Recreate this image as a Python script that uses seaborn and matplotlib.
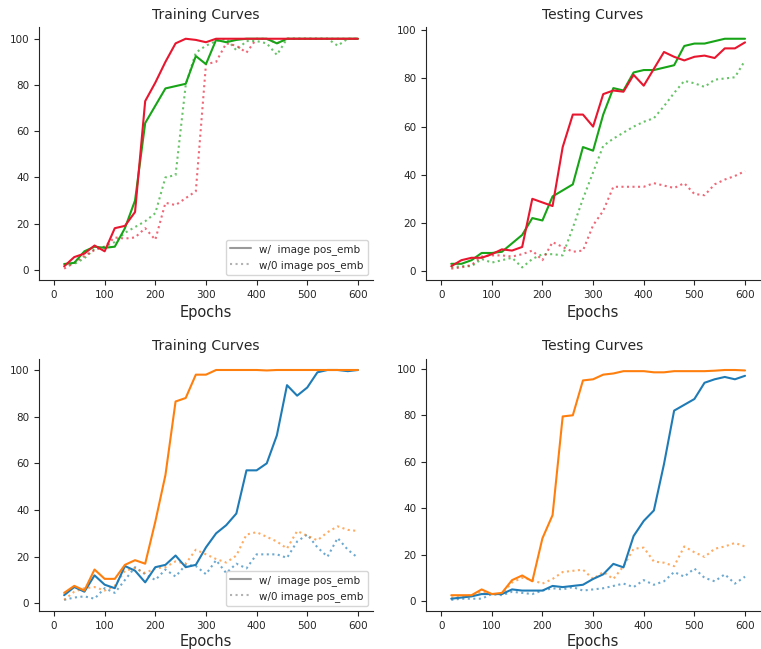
import numpy as np
import pandas as pd
import seaborn as sns
import matplotlib
matplotlib.use('Agg')
import matplotlib.pyplot as plt
from matplotlib.lines import Line2D

sns.set_style('ticks')

epochs = list(range(20, 601, 20))

# Top row: green / red runs
train_green_w = [2.5, 3, 8, 10, 9.5, 10, 18, 30, 63.5, 71, 78.5, 79.5, 80.5, 92.5, 89,
                 99.5, 98.5, 99.5, 100, 100, 100, 98, 100, 100, 100, 100, 100, 100, 100, 100]
train_red_w = [1.5, 5.5, 7, 10.5, 8, 18, 19, 25, 73, 81, 90, 98, 100, 99.5, 98.5,
               100, 100, 100, 100, 100, 100, 100, 100, 100, 100, 100, 100, 100, 100, 100]
train_green_wo = [2, 2.5, 5, 9, 10, 12, 16, 18.5, 21, 24.5, 40, 41, 80, 94, 97,
                  99, 100, 95, 99, 99, 98, 93, 100, 100, 100, 100, 100, 97, 100, 100]
train_red_wo = [0.5, 3, 6, 8.5, 10, 14, 13.5, 14, 18, 13, 29, 28, 31, 34, 89,
                90, 98, 97, 94, 100, 100, 98, 100, 100, 100, 100, 100, 100, 100, 100]

test_green_w = [3, 3, 4.5, 7.5, 7.5, 8, 11.5, 15, 22, 21, 31, 33.5, 36, 51.5, 50,
                65, 76, 75, 82.5, 83.5, 83.5, 84.5, 85.5, 93.5, 94.5, 94.5, 95.5, 96.5, 96.5, 96.5]
test_red_w = [2, 4.5, 5.5, 5.5, 7, 9, 8.5, 10, 30, 28.5, 27, 51.5, 65, 65, 60,
              73.5, 75, 74.5, 81.5, 77, 84, 91, 89, 87.5, 89, 89.5, 88.5, 92.5, 92.5, 95]
test_green_wo = [1.5, 2, 2, 5, 3.5, 4.5, 5.5, 1.5, 5, 7, 7, 6.5, 18, 30, 41,
                 52, 55, 57.5, 60, 62, 63.5, 68.5, 74, 79, 78, 76.5, 79.5, 80, 80.5, 87.5]
test_red_wo = [1, 1.5, 2.5, 6, 6.5, 6.5, 6, 7, 8.5, 4.5, 12, 10, 8, 8.5, 19,
               25, 35, 35, 35, 35, 36.5, 35.5, 34.5, 36.5, 32, 31.5, 36, 38, 39.5, 41.5]

# Bottom row: orange / blue runs
train_orange_w = [4.5, 7.5, 5.5, 14.5, 10.5, 10.5, 16.5, 18.5, 17, 35, 55, 86.5, 88, 98, 98,
                  100, 100, 100, 100, 100, 99.8, 100, 100, 100, 100, 100, 100, 100, 100, 100]
train_blue_w = [3.5, 7, 5, 12, 8, 6.5, 16, 14, 9, 15.5, 16.5, 20.5, 15.5, 16.5, 24,
                30, 33.5, 38.5, 57, 57, 60, 72, 93.5, 89, 92.5, 99, 100, 100, 99.5, 100]
train_orange_wo = [1.5, 5, 6.5, 7, 5.5, 7.5, 14, 15, 13, 15, 15.5, 18, 17, 23, 21,
                   19, 17.5, 20.5, 29.5, 30.5, 28.5, 26.5, 23.5, 31, 29, 27, 30.5, 33, 31.5, 31]
train_blue_wo = [1.5, 2.5, 3, 2, 6.5, 4.5, 10, 15.5, 12.5, 10, 14.5, 11.5, 16.5, 16, 12.5,
                 18.5, 13, 17, 15, 21, 21, 21, 19.5, 26.5, 29.5, 24, 20, 28, 23, 19.5]

test_orange_w = [2.5, 2.5, 2.5, 5, 3, 3.5, 9, 11, 8.5, 27, 37, 79.5, 80, 95, 95.5,
                 97.5, 98, 99, 99, 99, 98.5, 98.5, 99, 99, 99, 99, 99.2, 99.5, 99.5, 99.3]
test_blue_w = [1, 1.5, 2, 3, 3, 3, 5, 4.5, 4.5, 4.5, 6.5, 6, 6.5, 7, 9.5,
               11.5, 16, 14.5, 28, 34.5, 39, 59, 82, 84.5, 87, 94, 95.5, 96.5, 95.5, 97]
test_orange_wo = [1.5, 2, 2.5, 4, 3, 3, 8, 10, 9, 7.5, 9.5, 12.5, 13, 13.5, 9.5,
                  12.5, 9.5, 15, 22.5, 23, 17, 16.5, 15, 23.5, 21, 19, 22.5, 23.5, 25, 23.5]
test_blue_wo = [0.5, 1, 1, 1, 3, 2.5, 4, 3.5, 3, 4.5, 5.5, 5, 6, 4.5, 5,
                5.5, 6.5, 7.5, 6, 9, 7, 8.5, 12.5, 10.5, 14, 10, 8.5, 11.5, 7.5, 10.5]

GREEN = '#17a417'
RED = '#e8162e'
ORANGE = '#ff7f0e'
BLUE = '#1f7bb6'

panels = [
    ('Training Curves', [(train_green_w, train_green_wo, GREEN), (train_red_w, train_red_wo, RED)], True),
    ('Testing Curves', [(test_green_w, test_green_wo, GREEN), (test_red_w, test_red_wo, RED)], False),
    ('Training Curves', [(train_blue_w, train_blue_wo, BLUE), (train_orange_w, train_orange_wo, ORANGE)], True),
    ('Testing Curves', [(test_blue_w, test_blue_wo, BLUE), (test_orange_w, test_orange_wo, ORANGE)], False),
]

fig, axes = plt.subplots(2, 2, figsize=(7.61, 6.49), dpi=100)
plt.subplots_adjust(left=0.051, right=0.999, top=0.958, bottom=0.058, wspace=0.158, hspace=0.31)

for i, (ax, (title, series, show_legend)) in enumerate(zip(axes.flat, panels)):
    for w_vals, wo_vals, color in series:
        sns.lineplot(x=epochs, y=wo_vals, ax=ax, color=color, linestyle=':', linewidth=1.5, alpha=0.65)
    for w_vals, wo_vals, color in series:
        sns.lineplot(x=epochs, y=w_vals, ax=ax, color=color, linestyle='-', linewidth=1.5)
    ax.set_title(title, fontsize=10, color='.15')
    ax.set_xlabel('Epochs', fontsize=10.5, labelpad=2 if i >= 2 else 4)
    ax.set_xlim(-30, 630)
    ax.set_xticks([0, 100, 200, 300, 400, 500, 600])
    ax.tick_params(labelsize=7.5)
    sns.despine(ax=ax)
    if show_legend:
        handles = [Line2D([0], [0], color='grey', linestyle='-', linewidth=1.5, alpha=0.8),
                   Line2D([0], [0], color='grey', linestyle=':', linewidth=1.5, alpha=0.6)]
        ax.legend(handles, ['w/  image pos_emb', 'w/0 image pos_emb'], loc='lower right', fontsize=7.5)

plt.savefig('out.png', dpi=100)
